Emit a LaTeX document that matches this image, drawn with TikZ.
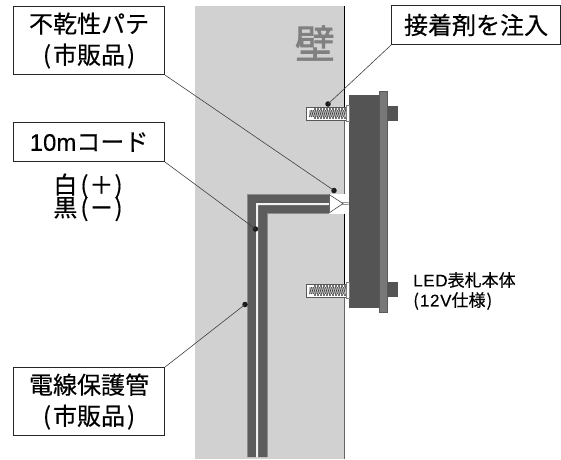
\documentclass[tikz,border=0pt]{standalone}
\usepackage{fontspec}
\setmainfont[FakeBold=0.35]{Noto Sans CJK JP}
\newfontfamily\lat[FakeBold=0.1]{Liberation Sans}
\newfontfamily\heavy[FakeBold=1.6]{Noto Sans CJK JP}
\definecolor{wallgray}{gray}{0.82}
\definecolor{pipegray}{gray}{0.36}
\definecolor{platedark}{gray}{0.33}
\definecolor{plategray}{gray}{0.47}
\definecolor{kabegray}{gray}{0.5}
\tikzset{
  labelbox/.style={draw=black!85,line width=1.1pt,fill=white,inner sep=0pt,align=center,font=\fontsize{24}{31}\selectfont,anchor=north west},
  plain/.style={inner sep=0pt,align=center,font=\fontsize{24}{24}\selectfont},
  small/.style={inner sep=0pt,align=left,anchor=west,font=\fontsize{17}{20}\selectfont},
  leader/.style={draw=black!75,line width=0.6pt},
  leaddot/.style={circle,fill=black!90,minimum size=5.5pt,inner sep=0pt},
  wallline/.style={draw=black,line width=0.8pt},
  wallgrayline/.style={draw=black!60,line width=0.8pt},
}
\newcommand{\anchorbolt}[1]{%
  \begin{scope}[yshift=-#1pt]
    \filldraw[fill=white,draw=black!65,line width=0.7pt] (306,0) rectangle (347,13);
    \foreach \k in {0,...,10} {
      \fill[black!55] ({314+\k*3},1.2) rectangle ({315.6+\k*3},3);
      \fill[black!55] ({314+\k*3},10) rectangle ({315.6+\k*3},11.8);
    }
    \fill[black!25] (309,3) rectangle (346,10);
    \foreach \k in {0,...,17} {
      \draw[black!75,line width=0.7pt] ({309.5+\k*2},10) -- ({311.5+\k*2},3);
    }
    \filldraw[fill=white,draw=black!50,line width=0.5pt] (346.5,-1.5) rectangle (349,14.5);
  \end{scope}
}
\newcommand{\pargap}{\hspace{2pt}}
\begin{document}
\begin{tikzpicture}[x=1pt,y=-1pt]
\useasboundingbox (0,0) rectangle (561,459);
% wall
\fill[wallgray] (195,6) rectangle (344.5,459);
\fill[white] (329,194) rectangle (345.5,213.5);
\draw[wallline] (344.5,6) -- (344.5,107);
\draw[wallgrayline] (344.5,120) -- (344.5,194);
\draw[wallline] (344.5,213.5) -- (344.5,284);
\draw[wallgrayline] (344.5,297) -- (344.5,459);
\node[font=\heavy\fontsize{40}{40}\selectfont,text=kabegray,inner sep=0pt] (kabe) at (315,43) {壁};
% conduit
\fill[pipegray] (247,457) -- (247,194) -- (329,194) -- (329,203) -- (256,203) -- (256,457) -- cycle;
\fill[pipegray] (258,457) -- (258,205) -- (329,205) -- (329,213) -- (267,213) -- (267,457) -- cycle;
\fill[white!70!wallgray] (256,457) -- (256,203) -- (329,203) -- (329,205) -- (258,205) -- (258,457) -- cycle;
\draw[black!45,line width=0.5pt] (247,457) -- (247,194) -- (329,194);
\draw[black!45,line width=0.5pt] (267,457) -- (267,213) -- (329,213);
% putty notch
\draw[black!70,line width=0.6pt] (329,194.5) -- (343,203.5) -- (329,213);
\draw[black!60,line width=0.5pt] (329,194) -- (329,213);
\draw[black!60,line width=0.5pt] (341,202.2) -- (349,202.8);
\draw[black!60,line width=0.5pt] (341,204.8) -- (349,204.2);
% LED panel
\fill[platedark] (388,106) rectangle (398,121);
\fill[platedark] (388,282) rectangle (398,297);
\fill[platedark] (349,95) rectangle (379,308);
\filldraw[fill=plategray,draw=black!65,line width=0.5pt] (379.5,91.5) rectangle (387.5,312);
% bolts
\anchorbolt{107}
\anchorbolt{284}
% label boxes
\node[labelbox,minimum width=151pt,minimum height=68pt] (putty) at (13,6) {不乾性パテ\\(\pargap 市販品\pargap)};
\node[labelbox,minimum width=151pt,minimum height=39pt] (cord) at (13,122) {{\lat 10m}コード};
\node[labelbox,minimum width=169pt,minimum height=39pt] (glue) at (391,5) {接着剤を注入};
\node[labelbox,minimum width=151pt,minimum height=68pt] (pipe) at (13,367) {電線保護管\\(\pargap 市販品\pargap)};
\node[plain] (white) at (88,186) {白\hspace{3pt}(\hspace{1pt}＋\hspace{1pt})};
\node[plain] (black) at (88,209) {黒\hspace{3pt}(\hspace{1pt}{\heavy －}\hspace{1pt})};
\node[small] (led) at (413,280) {{\lat\addfontfeature{LetterSpace=4} LED}表札本体};
\node[small] (volt) at (413,301) {(\hspace{1pt}{\lat\addfontfeature{LetterSpace=4} 12V}仕様\hspace{1pt})};
% leaders
\node[leaddot] (d1) at (334,190.5) {};
\node[leaddot] (d2) at (255.5,229) {};
\node[leaddot] (d3) at (328,104) {};
\node[leaddot] (d4) at (245,304.5) {};
\draw[leader] (putty.south east) -- (d1.center);
\draw[leader] (cord.south east) -- (d2.center);
\draw[leader] (glue.south west) -- (d3.center);
\draw[leader] (pipe.north east) -- (d4.center);
\end{tikzpicture}
\end{document}
